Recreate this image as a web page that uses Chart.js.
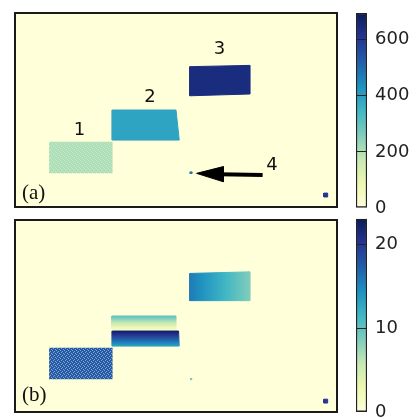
<!DOCTYPE html>
<html>
<head>
<meta charset="utf-8">
<script src="https://cdn.jsdelivr.net/npm/chart.js@4.4.1/dist/chart.umd.min.js"></script>
<style>
  html, body { margin: 0; padding: 0; background: #fff; overflow: hidden; width: 415px; height: 418px; }
  canvas { position: absolute; }
</style>
</head>
<body>
<canvas id="mainA" width="350" height="214" style="left:0;top:0"></canvas>
<canvas id="mainB" width="350" height="204" style="left:0;top:214px"></canvas>
<canvas id="cbarA" width="65" height="250" style="left:350px;top:-20px"></canvas>
<canvas id="cbarB" width="65" height="231" style="left:350px;top:200px"></canvas>
<script>
// YlGnBu colormap stops
const YLGNBU = ['#ffffd9', '#edf8b1', '#c7e9b4', '#7fcdbb', '#41b6c4', '#1d91c0', '#225ea8', '#253494', '#081d58'];

// ---- panel (a): regions 1, 2, 3, small dot (4), corner square ----
const A_MAX = 695;
const A_TICKS = [0, 200, 400, 600];
const A_SHAPE_X = [
  [10.6, 30.3, 30.3, 10.6],
  [30.2, 51.0, 50.0, 30.2],
  [54.3, 73.0, 73.0, 54.3],
  [54.4, 55.0, 55.0, 54.4],
  [95.9, 97.1, 97.1, 95.9]
];
const A_SHAPE_Y = [
  [10.4, 10.4, 20.2, 20.2],
  [20.7, 20.7, 30.0, 30.0],
  [34.4, 34.95, 43.8, 43.4],
  [10.35, 10.35, 10.85, 10.85],
  [3.1, 3.1, 4.3, 4.3]
];
const A_VALUES = [205, 390, 640, 480, 610];
const A_SPECKLE = [0.3, 0, 0, 0, 0];

const A_LABELS = ['1', '2', '3', '4'];
const A_LABEL_X = [20.0, 41.9, 63.5, 79.8];
const A_LABEL_Y = [23.8, 33.8, 48.7, 13.0];

// arrow pointing at region 4
const ARROW_LINE_X = [76.9, 63.5];
const ARROW_LINE_Y = [9.9, 10.15];
const ARROW_HEAD_X = [56.4, 64.7, 64.7];
const ARROW_HEAD_Y = [10.4, 12.5, 7.8];

// ---- panel (b): same regions, with start/end values for gradients ----
const B_MAX = 23;
const B_TICKS = [0, 10, 20];
const B_SHAPE_X = [
  [10.6, 30.3, 30.3, 10.6],
  [30.1, 50.3, 50.0, 30.1],
  [30.2, 51.0, 50.8, 30.2],
  [54.3, 73.0, 73.0, 54.3],
  [54.5, 54.9, 54.9, 54.5],
  [95.9, 97.1, 97.1, 95.9]
];
const B_SHAPE_Y = [
  [10.2, 10.2, 20.1, 20.1],
  [25.8, 25.8, 30.0, 30.0],
  [20.6, 20.6, 25.3, 25.3],
  [34.8, 34.8, 43.8, 43.3],
  [10.1, 10.1, 10.5, 10.5],
  [2.8, 2.8, 4.0, 4.0]
];
const B_VALUE_START = [17.5, 10.1, 22.5, 15.6, 9.5, 20];   // left or top
const B_VALUE_END = [17.5, 1.6, 13.0, 8.6, 9.5, 20];      // right or bottom
const B_GRADIENT = ['', 'v', 'v', 'h', '', ''];
const B_SPECKLE = [0.45, 0, 0, 0, 0, 0];

function hexToRgb(h) {
  return [parseInt(h.slice(1, 3), 16), parseInt(h.slice(3, 5), 16), parseInt(h.slice(5, 7), 16)];
}
const CMAP_RGB = YLGNBU.map(hexToRgb);

function cmapRgb(t) {
  t = Math.max(0, Math.min(1, t));
  const s = t * (CMAP_RGB.length - 1);
  const i = Math.min(Math.floor(s), CMAP_RGB.length - 2);
  const f = s - i;
  const a = CMAP_RGB[i], b = CMAP_RGB[i + 1];
  return [0, 1, 2].map(k => Math.round(a[k] + (b[k] - a[k]) * f));
}
function cmap(t) {
  const c = cmapRgb(t);
  return `rgb(${c[0]},${c[1]},${c[2]})`;
}

// speckled fill like the noisy reconstructed region
const patternCache = {};
function speckle(t, mix) {
  const key = t.toFixed(4) + '_' + mix;
  if (patternCache[key]) return patternCache[key];
  const c = cmapRgb(t);
  const light = c.map(v => Math.round(v + (255 - v) * mix));
  const pc = document.createElement('canvas');
  pc.width = 4; pc.height = 4;
  const g = pc.getContext('2d');
  g.fillStyle = `rgb(${c[0]},${c[1]},${c[2]})`;
  g.fillRect(0, 0, 4, 4);
  g.fillStyle = `rgb(${light[0]},${light[1]},${light[2]})`;
  g.fillRect(0, 0, 1, 1);
  g.fillRect(2, 1, 1, 1);
  g.fillRect(1, 2, 1, 1);
  g.fillRect(3, 3, 1, 1);
  const p = pc.getContext('2d').createPattern(pc, 'repeat');
  patternCache[key] = p;
  return p;
}

function polygon(xs, ys) {
  const pts = xs.map((x, i) => ({ x, y: ys[i] }));
  pts.push(pts[0]);
  return pts;
}

const frameAndText = {
  id: 'frameAndText',
  beforeDraw(chart) {
    const { ctx, chartArea: a } = chart;
    ctx.save();
    ctx.fillStyle = YLGNBU[0];
    ctx.fillRect(a.left, a.top, a.right - a.left, a.bottom - a.top);
    ctx.restore();
  },
  afterDraw(chart) {
    const { ctx, chartArea: a, scales } = chart;
    const o = chart.options.plugins.frameAndText;
    ctx.save();
    ctx.fillStyle = '#111';
    ctx.font = '18px "DejaVu Sans"';
    ctx.textAlign = 'center';
    ctx.textBaseline = 'middle';
    (o.labels || []).forEach((t, i) => {
      ctx.fillText(t, scales.x.getPixelForValue(o.labelX[i]), scales.y.getPixelForValue(o.labelY[i]));
    });
    ctx.font = '21px "Liberation Serif"';
    ctx.textAlign = 'left';
    ctx.textBaseline = 'alphabetic';
    ctx.fillText(o.panel, a.left + 7, a.bottom - o.panelOffset);
    ctx.strokeStyle = '#1a1a1a';
    ctx.lineWidth = 2;
    ctx.strokeRect(a.left, a.top, a.right - a.left, a.bottom - a.top);
    ctx.restore();
  }
};

function gradientFill(chart, xs, ys, v0, v1, dir, max) {
  const { ctx, scales } = chart;
  if (!chart.chartArea || !scales.x) return cmap(v0 / max);
  let g;
  if (dir === 'h') {
    g = ctx.createLinearGradient(scales.x.getPixelForValue(Math.min(...xs)), 0, scales.x.getPixelForValue(Math.max(...xs)), 0);
  } else {
    g = ctx.createLinearGradient(0, scales.y.getPixelForValue(Math.max(...ys)), 0, scales.y.getPixelForValue(Math.min(...ys)));
  }
  for (let k = 0; k <= 10; k++) {
    const v = v0 + (v1 - v0) * k / 10;
    g.addColorStop(k / 10, cmap(v / max));
  }
  return g;
}

function mainOptions(padding, plugin) {
  return {
    responsive: false,
    animation: false,
    layout: { padding },
    elements: { point: { radius: 0, hoverRadius: 0 }, line: { tension: 0 } },
    scales: {
      x: { type: 'linear', min: 0, max: 100, display: false },
      y: { type: 'linear', min: 0, max: 60, display: false }
    },
    plugins: { legend: { display: false }, tooltip: { enabled: false }, frameAndText: plugin }
  };
}

// panel (a)
const dsA = A_SHAPE_X.map((xs, i) => {
  const fillCol = A_SPECKLE[i] ? speckle(A_VALUES[i] / A_MAX, A_SPECKLE[i]) : cmap(A_VALUES[i] / A_MAX);
  return {
    data: polygon(xs, A_SHAPE_Y[i]),
    fill: 'shape',
    backgroundColor: fillCol,
    borderColor: A_SPECKLE[i] ? 'rgba(0,0,0,0)' : fillCol,
    borderWidth: 1
  };
});
dsA.push({
  data: polygon(ARROW_HEAD_X, ARROW_HEAD_Y),
  fill: 'shape', backgroundColor: '#000', borderColor: '#000', borderWidth: 1
});
dsA.push({
  data: ARROW_LINE_X.map((x, i) => ({ x, y: ARROW_LINE_Y[i] })),
  fill: false, borderColor: '#000', borderWidth: 4
});

new Chart(document.getElementById('mainA'), {
  type: 'line',
  data: { datasets: dsA },
  options: mainOptions({ left: 15, top: 13, right: 13, bottom: 7 }, {
    labels: A_LABELS, labelX: A_LABEL_X, labelY: A_LABEL_Y, panel: '(a)', panelOffset: 8
  }),
  plugins: [frameAndText]
});

// panel (b)
const dsB = B_SHAPE_X.map((xs, i) => {
  const ys = B_SHAPE_Y[i];
  const colorFn = (c) => {
    if (B_SPECKLE[i]) return speckle(B_VALUE_START[i] / B_MAX, B_SPECKLE[i]);
    if (!B_GRADIENT[i]) return cmap(B_VALUE_START[i] / B_MAX);
    return gradientFill(c.chart, xs, ys, B_VALUE_START[i], B_VALUE_END[i], B_GRADIENT[i], B_MAX);
  };
  return {
    data: polygon(xs, ys),
    fill: 'shape',
    backgroundColor: colorFn,
    borderColor: B_SPECKLE[i] ? 'rgba(0,0,0,0)' : colorFn,
    borderWidth: 1
  };
});

new Chart(document.getElementById('mainB'), {
  type: 'line',
  data: { datasets: dsB },
  options: mainOptions({ left: 15, top: 6, right: 13, bottom: 6 }, {
    labels: [], labelX: [], labelY: [], panel: '(b)', panelOffset: 11
  }),
  plugins: [frameAndText]
});

// colour bars
function colorbar(id, max, ticks, padding) {
  new Chart(document.getElementById(id), {
    type: 'bar',
    data: {
      labels: [''],
      datasets: [{
        data: [max],
        backgroundColor: (c) => {
          const a = c.chart.chartArea;
          if (!a) return YLGNBU[4];
          const g = c.chart.ctx.createLinearGradient(0, a.bottom, 0, a.top);
          YLGNBU.forEach((col, k) => g.addColorStop(k / (YLGNBU.length - 1), col));
          return g;
        },
        borderColor: '#222',
        borderWidth: 1.5,
        borderSkipped: false,
        barPercentage: 1,
        categoryPercentage: 1
      }]
    },
    options: {
      responsive: false,
      animation: false,
      layout: { padding },
      plugins: { legend: { display: false }, tooltip: { enabled: false } },
      scales: {
        x: { display: false },
        y: {
          position: 'right',
          min: 0,
          max: max,
          afterBuildTicks: (s) => { s.ticks = ticks.map(v => ({ value: v })); },
          afterFit: (s) => { s.width = 48; },
          border: { display: false },
          grid: {
            drawTicks: false,
            z: 1,
            lineWidth: 1,
            color: (c) => (c.tick && c.tick.value > 0 ? '#222' : 'rgba(0,0,0,0)')
          },
          ticks: {
            padding: 8,
            color: '#222',
            font: { family: 'DejaVu Sans', size: 18 }
          }
        }
      }
    }
  });
}

colorbar('cbarA', A_MAX, A_TICKS, { left: 6, right: 0, top: 33, bottom: 22 });
colorbar('cbarB', B_MAX, B_TICKS, { left: 6, right: 0, top: 18, bottom: 18 });
</script>
</body>
</html>
